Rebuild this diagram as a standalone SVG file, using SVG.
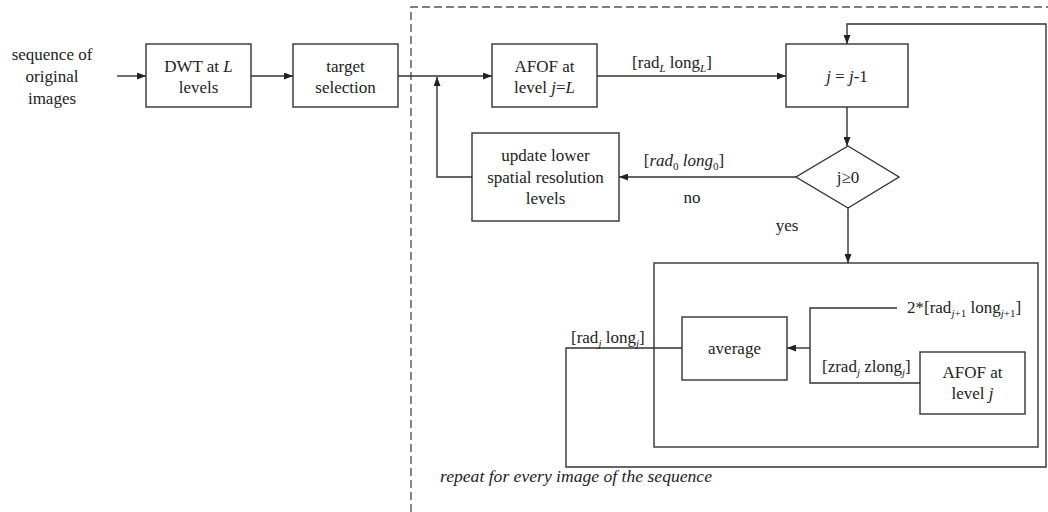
<svg xmlns="http://www.w3.org/2000/svg" width="1048" height="512" viewBox="0 0 1048 512">
<style>
.box{fill:none;stroke:#333;stroke-width:1.4}
.ln{fill:none;stroke:#333;stroke-width:1.4}
.arr{marker-end:url(#ah)}
.dash{fill:none;stroke:#555;stroke-width:1.4;stroke-dasharray:8 4}
text{font-family:"Liberation Serif","Times New Roman",serif;font-size:17px;fill:#222}
.c{text-anchor:middle}
.i{font-style:italic}
.s{font-size:11px}
</style>
<defs>
<marker id="ah" markerWidth="9" markerHeight="7" refX="9" refY="3.5" orient="auto" markerUnits="userSpaceOnUse">
<path d="M0,0 L9,3.5 L0,7 z" fill="#222"/>
</marker>
</defs>
<rect width="1048" height="512" fill="#fff"/>
<g id="repeat-region">
<path class="dash" d="M411,512 V7 H1048"/>
<text class="i" x="440" y="482" style="font-size:17.6px">repeat for every image of the sequence</text>
</g>
<g id="input">
<text class="c" x="52" y="60">sequence of</text>
<text class="c" x="52" y="82">original</text>
<text class="c" x="52" y="104">images</text>
</g>
<g id="dwt">
<rect class="box" x="146" y="44" width="105" height="63"/>
<text class="c" x="198.5" y="72">DWT at <tspan class="i">L</tspan></text>
<text class="c" x="198.5" y="93">levels</text>
</g>
<g id="target">
<rect class="box" x="293" y="44" width="105" height="63"/>
<text class="c" x="345.5" y="72">target</text>
<text class="c" x="345.5" y="93">selection</text>
</g>
<g id="afof-L">
<rect class="box" x="492" y="44" width="105" height="63"/>
<text class="c" x="544.5" y="72">AFOF at</text>
<text class="c" x="544.5" y="93">level <tspan class="i">j</tspan>=<tspan class="i">L</tspan></text>
</g>
<g id="decrement">
<rect class="box" x="786" y="44" width="122" height="63"/>
<text class="c" x="847" y="82"><tspan class="i">j</tspan> = <tspan class="i">j</tspan>-1</text>
</g>
<g id="decision">
<path class="box" d="M848,146 L899,177 L848,208 L796,177 z"/>
<text class="c" x="848" y="183">j≥0</text>
</g>
<g id="update">
<rect class="box" x="472" y="133" width="147" height="88"/>
<text class="c" x="545.5" y="161">update lower</text>
<text class="c" x="545.5" y="183">spatial resolution</text>
<text class="c" x="545.5" y="204">levels</text>
</g>
<g id="loop-body">
<rect class="box" x="654" y="263" width="384" height="184"/>
</g>
<g id="average">
<rect class="box" x="682" y="317" width="105" height="63"/>
<text class="c" x="734.5" y="354">average</text>
</g>
<g id="afof-j">
<rect class="box" x="920" y="352" width="105" height="62"/>
<text class="c" x="972.5" y="378">AFOF at</text>
<text class="c" x="972.5" y="399">level <tspan class="i">j</tspan></text>
</g>
<g id="connectors">
<path class="ln arr" d="M117,76 H146"/>
<path class="ln arr" d="M251,76 H293"/>
<path class="ln arr" d="M398,76 H492"/>
<path class="ln arr" d="M472,177 H437 V77"/>
<path class="ln arr" d="M597,76 H786"/>
<path class="ln arr" d="M847,107 V146"/>
<path class="ln arr" d="M796,177 H619"/>
<path class="ln arr" d="M848,208 V263"/>
<path class="ln" d="M897,308 H810 V383 H920"/>
<path class="ln arr" d="M810,348 H787"/>
<path class="ln arr" d="M682,348 H566 V467 H1046 V24 H847 V44"/>
</g>
<g id="labels">
<text class="c" x="672" y="68">[rad<tspan class="s i" dy="4">L</tspan><tspan dy="-4"> long</tspan><tspan class="s i" dy="4">L</tspan><tspan dy="-4">]</tspan></text>
<text class="c" x="684" y="166">[<tspan class="i">rad</tspan><tspan class="s" dy="4">0</tspan><tspan class="i" dy="-4"> long</tspan><tspan class="s" dy="4">0</tspan><tspan dy="-4">]</tspan></text>
<text class="c" x="692" y="203">no</text>
<text class="c" x="787" y="231">yes</text>
<text x="571" y="343">[rad<tspan class="s i" dy="4">j</tspan><tspan dy="-4"> long</tspan><tspan class="s i" dy="4">j</tspan><tspan dy="-4">]</tspan></text>
<text x="907" y="313">2*[rad<tspan class="s" dy="4"><tspan class="i">j</tspan>+1</tspan><tspan dy="-4"> long</tspan><tspan class="s" dy="4"><tspan class="i">j</tspan>+1</tspan><tspan dy="-4">]</tspan></text>
<text x="822" y="372">[zrad<tspan class="s i" dy="4">j</tspan><tspan dy="-4"> zlong</tspan><tspan class="s i" dy="4">j</tspan><tspan dy="-4">]</tspan></text>
</g>
</svg>
